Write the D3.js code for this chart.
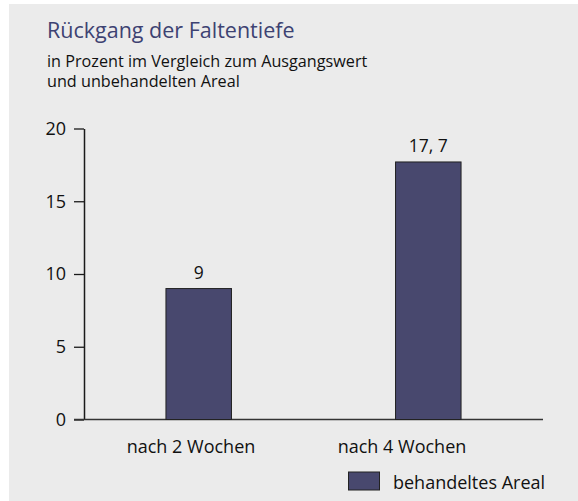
<!DOCTYPE html>
<html>
<head>
<meta charset="utf-8">
<script src="https://cdn.jsdelivr.net/npm/d3@7"></script>
<style>
  html, body { margin: 0; padding: 0; background: #ffffff; }
  svg { display: block; }
  text { font-family: "Open Sans", "Noto Sans", sans-serif; }
</style>
</head>
<body>
<script>
const title = "Rückgang der Faltentiefe";
const subtitleLines = ["in Prozent im Vergleich zum Ausgangswert", "und unbehandelten Areal"];
const categories = ["nach 2 Wochen", "nach 4 Wochen"];
const values = [9, 17.7];
const valueLabels = ["9", "17, 7"];
const yTicks = [0, 5, 10, 15, 20];
const seriesName = "behandeltes Areal";

const W = 578, H = 501;
const svg = d3.select("body").append("svg").attr("width", W).attr("height", H);

svg.append("rect").attr("x", 9).attr("y", 4).attr("width", 569).attr("height", 497).attr("fill", "#ebebeb");

svg.append("text").attr("x", 47).attr("y", 37.5).attr("fill", "#3d4272")
  .attr("font-size", 21.5).text(title);
svg.append("text").attr("x", 47).attr("y", 67).attr("fill", "#111")
  .attr("font-size", 16.2)
  .selectAll("tspan").data(subtitleLines).join("tspan")
  .attr("x", 47).attr("dy", (d, i) => i === 0 ? 0 : 20.3).text(d => d);

const axisX = 84, x1 = 543, yTop = 128.5, y0 = 419.5;
const y = d3.scaleLinear().domain([0, 20]).range([y0, yTop]);
const x = d3.scaleBand().domain(categories).range([axisX, x1]).paddingInner(0.7146).paddingOuter(0.357);
const xl = d3.scalePoint().domain(categories).range([191, 402]);

// y axis
const yAxis = d3.axisLeft(y).tickValues(yTicks).tickSize(10).tickPadding(8).tickSizeOuter(0);
const gy = svg.append("g").attr("transform", `translate(${axisX},0)`).call(yAxis);
gy.select(".domain").attr("stroke", "#1a1a1a").attr("stroke-width", 1.5);
gy.selectAll(".tick line").attr("stroke", "#1a1a1a").attr("stroke-width", 1.3);
gy.selectAll(".tick text").attr("font-size", 18).attr("fill", "#111")
  .attr("font-family", "'Open Sans', sans-serif");

// baseline
svg.append("line").attr("x1", 74).attr("x2", x1).attr("y1", y(0)).attr("y2", y(0))
  .attr("stroke", "#333").attr("stroke-width", 1.5);

// bars
svg.selectAll("rect.bar").data(values).join("rect").attr("class", "bar")
  .attr("x", (d, i) => x(categories[i]))
  .attr("width", x.bandwidth())
  .attr("y", d => y(d))
  .attr("height", d => y(0) - y(d))
  .attr("fill", "#48486e").attr("stroke", "#222").attr("stroke-width", 1);

svg.selectAll("text.val").data(values).join("text").attr("class", "val")
  .attr("x", (d, i) => x(categories[i]) + x.bandwidth() / 2)
  .attr("y", d => y(d) - 10)
  .attr("text-anchor", "middle").attr("font-size", 17.5).attr("fill", "#111")
  .text((d, i) => valueLabels[i]);

svg.selectAll("text.cat").data(categories).join("text").attr("class", "cat")
  .attr("x", d => xl(d)).attr("y", 452.5)
  .attr("text-anchor", "middle").attr("font-size", 18).attr("fill", "#111")
  .text(d => d);

// legend
svg.append("rect").attr("x", 348.5).attr("y", 472).attr("width", 31).attr("height", 18)
  .attr("fill", "#48486e").attr("stroke", "#222").attr("stroke-width", 1);
svg.append("text").attr("x", 393).attr("y", 489).attr("font-size", 18).attr("fill", "#111").text(seriesName);
</script>
</body>
</html>
